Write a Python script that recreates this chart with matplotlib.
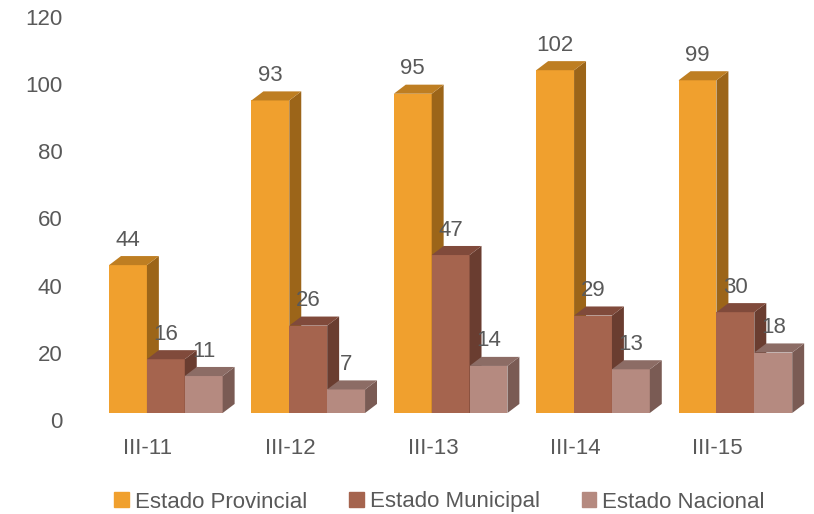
import matplotlib
matplotlib.use('Agg')

import matplotlib.pyplot as plt
import matplotlib.transforms as mtransforms
from matplotlib.patches import Polygon, Patch


categories = ['III-11', 'III-12', 'III-13', 'III-14', 'III-15']
series_names = ['Estado Provincial', 'Estado Municipal', 'Estado Nacional']
provincial = [44, 93, 95, 102, 99]
municipal = [16, 26, 47, 29, 30]
nacional = [11, 7, 14, 13, 18]
yticks = [0, 20, 40, 60, 80, 100, 120]

# front, top, side shades for each series
COLORS = [
    ('#F0A02E', '#BE7E22', '#9C6519'),
    ('#A5644E', '#804A3B', '#6A3D30'),
    ('#B58A80', '#8C6C65', '#7A5B54'),
]
TEXT = '#595959'
FS = 16
BAR_W = 0.266
DX = 0.084   # fake depth, x direction
DY = 2.7     # fake depth, y direction


def draw_bar3d(ax, x0, value, colors):
    front, top, side = colors
    x1 = x0 + BAR_W
    ax.bar(x0, value, BAR_W, align='edge', color=front, edgecolor='none',
           zorder=2)
    ax.add_patch(Polygon([(x1, 0), (x1 + DX, DY), (x1 + DX, value + DY),
                          (x1, value)], closed=True, color=side, lw=0,
                         zorder=2))
    ax.add_patch(Polygon([(x0, value), (x0 + DX, value + DY),
                          (x1 + DX, value + DY), (x1, value)], closed=True,
                         color=top, lw=0, zorder=2))


def main():
    plt.rcParams['font.family'] = ['Liberation Sans', 'DejaVu Sans']
    fig = plt.figure(figsize=(8.14, 5.14), dpi=100)
    ax = fig.add_axes([75 / 814, 1 - 425 / 514, 735 / 814, 422 / 514])

    all_series = [provincial, municipal, nacional]
    for i in range(len(categories)):
        for k, vals in enumerate(all_series):
            x0 = i - 0.274 + k * BAR_W
            draw_bar3d(ax, x0, vals[i], COLORS[k])
            ax.annotate(str(vals[i]), (x0 + BAR_W / 2, vals[i]),
                        xytext=(0, 18), textcoords='offset points',
                        ha='center', va='center', fontsize=FS, color=TEXT,
                        zorder=3)

    ax.set_xlim(-0.513, 4.649)
    ax.set_ylim(-3.57, 122)
    ax.set_yticks(yticks)
    ax.set_yticklabels([str(t) for t in yticks])
    ax.set_xticks(range(len(categories)))
    ax.set_xticklabels(categories)
    ax.tick_params(length=0, colors=TEXT, labelsize=FS)
    ax.tick_params(axis='y', pad=9)
    ax.tick_params(axis='x', pad=9)

    shift = mtransforms.ScaledTranslation(0, -7 / 100, fig.dpi_scale_trans)
    for lab in ax.get_yticklabels():
        lab.set_transform(lab.get_transform() + shift)

    for s in ax.spines.values():
        s.set_visible(False)

    handles = [Patch(color=COLORS[k][0], label=series_names[k])
               for k in range(3)]
    fig.legend(handles=handles, loc='center', ncol=3, frameon=False,
               bbox_to_anchor=(0.54, 1 - 502 / 514), fontsize=FS,
               labelcolor=TEXT, handlelength=0.65, handleheight=0.65,
               handletextpad=0.27, columnspacing=1.9, borderpad=0)

    fig.savefig('out.png', dpi=100)


if __name__ == '__main__':
    main()
